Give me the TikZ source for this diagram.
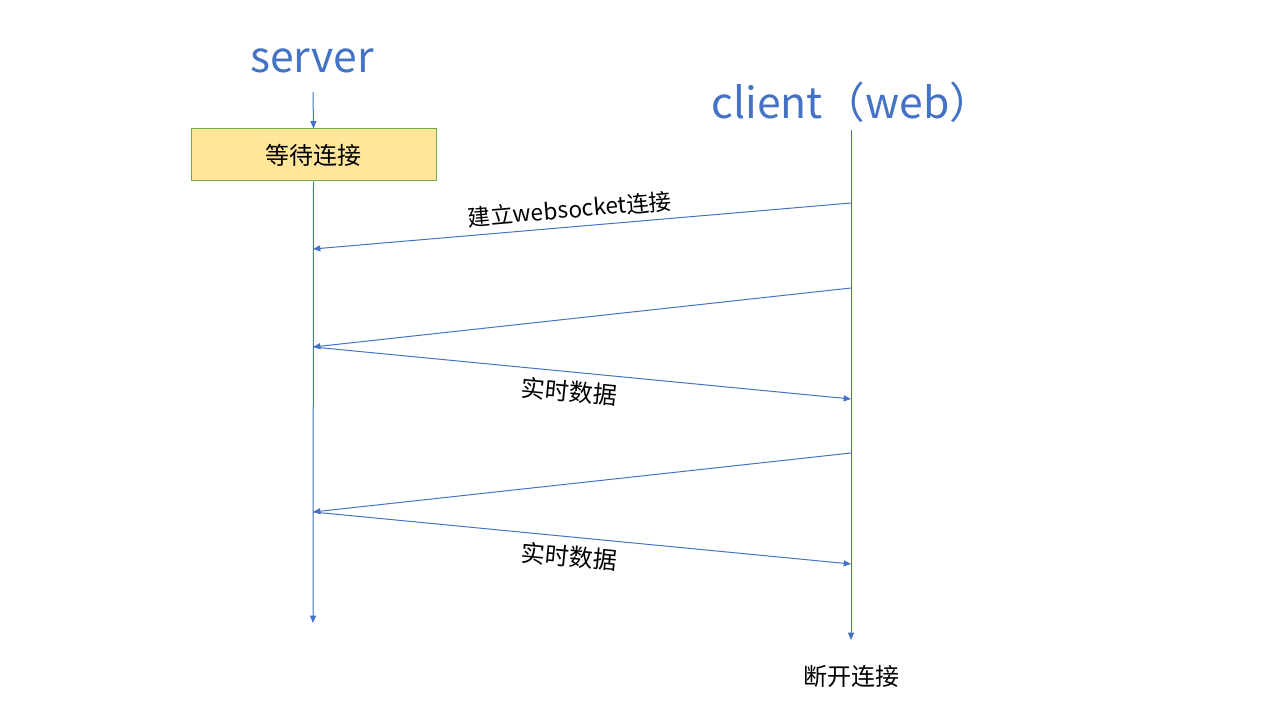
\documentclass[tikz,border=0pt]{standalone}
\usepackage{fontspec}
\setmainfont{Noto Sans CJK SC}
\usetikzlibrary{arrows.meta}

\definecolor{lineblue}{HTML}{4472C4}
\definecolor{boxyellow}{HTML}{FFE699}
\definecolor{boxgreen}{HTML}{70AD47}

\tikzset{
	msg/.style={draw=lineblue, line width=0.75pt, -{Triangle[length=5.5pt,width=4.5pt]}},
	head/.style={text=lineblue, font=\fontsize{32}{36}\selectfont, inner sep=0pt},
	label/.style={font=\fontsize{18}{20}\selectfont, inner sep=2pt},
	waitbox/.style={draw=boxgreen, fill=boxyellow, line width=0.75pt, minimum width=183.75pt, minimum height=39pt, font=\fontsize{18}{20}\selectfont}
}

\begin{document}
\begin{tikzpicture}[x=0.75pt, y=-0.75pt]
	\useasboundingbox (0,0) rectangle (1280,720);
	
	%headers
	\node[head] (server) at (312,61) {server};
	\node[head] (client) at (852,102) {client（web）};
	
	%box
	\node[waitbox] (wait) at (313.5,155) {等待连接};
	\node[label] (close) at (851,676) {断开连接};
	
	%points on the lifelines
	\coordinate (stop) at (313,92);
	\coordinate (send) at (313,623);
	\coordinate (ctop) at (851,130);
	\coordinate (cend) at (851,640);
	%
	\coordinate (s1) at (313,249);
	\coordinate (s2) at (313,347);
	\coordinate (s3) at (313,512);
	%
	\coordinate (c1) at (851,203);
	\coordinate (c2) at (851,288);
	\coordinate (c3) at (851,399);
	\coordinate (c4) at (851,453);
	\coordinate (c5) at (851,564);
	
	%lifelines
	\draw[msg] (stop) -- (wait.north);
	\draw[msg] (wait.south) -- (send);
	\draw[msg] (ctop) -- (cend);
	
	%messages
	\draw[msg] (c1) -- node[label, font=\fontsize{17}{20}\selectfont, pos=0.52, sloped, above=3pt] (open) {建立websocket连接} (s1);
	\draw[msg] (c2) -- (s2);
	\draw[msg] (s2) -- node[label, pos=0.48, sloped, below=4pt] (data1) {实时数据} (c3);
	\draw[msg] (c4) -- (s3);
	\draw[msg] (s3) -- node[label, pos=0.48, sloped, below=4pt] (data2) {实时数据} (c5);
	
	%\draw[help lines] (0,0) grid (1280,720);
\end{tikzpicture}
\end{document}
